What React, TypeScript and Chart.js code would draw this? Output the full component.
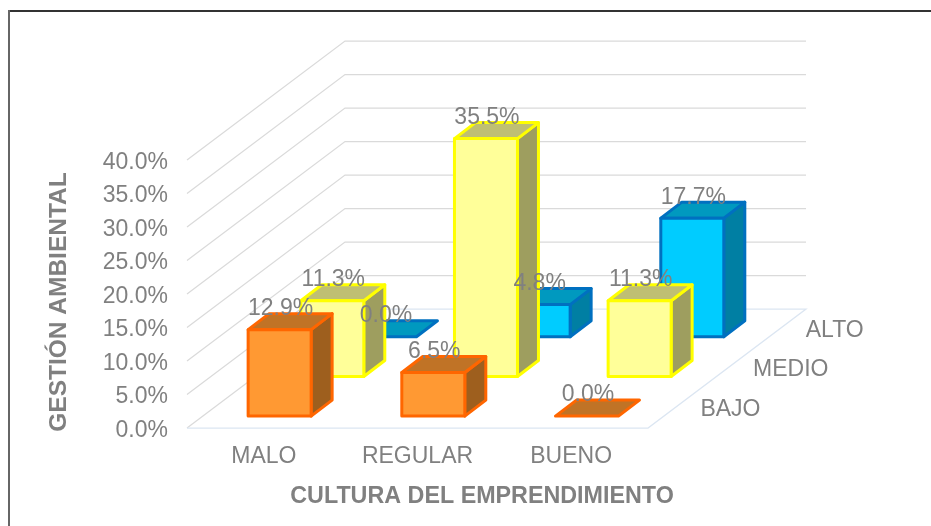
import React, { useEffect, useRef } from "react";
import { Chart, registerables } from "chart.js";

Chart.register(...registerables);

const categories = ["MALO", "REGULAR", "BUENO"];
const seriesNames = ["BAJO", "MEDIO", "ALTO"];
const bajo = [12.9, 6.5, 0.0];
const medio = [11.3, 35.5, 11.3];
const alto = [0.0, 4.8, 17.7];
const yAxisTitle = "GESTIÓN AMBIENTAL";
const xAxisTitle = "CULTURA DEL EMPRENDIMIENTO";

const FONT = '"Liberation Sans", Arial, sans-serif';
const TEXT = "#808080";
const W = 931;
const H = 526;
const AREA = { left: 187, top: 160, right: 648, bottom: 428 };
const DEPTH = { x: 158, y: -119 };
const BAR_DEPTH = { x: 21, y: -16 };
const ROW_T = [0.1, 0.1 + 1 / 3, 0.1 + 2 / 3];
const PALETTE = [
  { face: "#FF9933", line: "#FF6600", top: "#C07326", side: "#9E5F1E" },
  { face: "#FFFF99", line: "#FFFF00", top: "#BFBF73", side: "#9E9E5F" },
  { face: "#00CCFF", line: "#0070C0", top: "#0099BF", side: "#007FA3" },
];

function poly(ctx: CanvasRenderingContext2D, pts: number[][], fill: string, stroke: string) {
  ctx.beginPath();
  pts.forEach((p, i) => (i ? ctx.lineTo(p[0], p[1]) : ctx.moveTo(p[0], p[1])));
  ctx.closePath();
  ctx.fillStyle = fill;
  ctx.fill();
  ctx.strokeStyle = stroke;
  ctx.lineWidth = 3;
  ctx.lineJoin = "round";
  ctx.stroke();
}

const box3d = {
  id: "box3d",
  afterLayout(chart: any) {
    // the reference's value labels sit slightly below their gridline start
    const s = chart.scales.y;
    s._labelItems = null;
    s.getLabelItems(chart.chartArea).forEach((it: any) => {
      it.options.translation[1] += 2.5;
    });
  },
  beforeDatasetsDraw(chart: any) {
    const { ctx, scales } = chart;
    const { x, y } = scales;
    ctx.save();
    // walls and floor
    ctx.lineWidth = 1.25;
    ctx.strokeStyle = "#DADADA";
    y.ticks.forEach((t: any) => {
      const py = y.getPixelForValue(t.value);
      ctx.beginPath();
      ctx.moveTo(x.left, py);
      ctx.lineTo(x.left + DEPTH.x, py + DEPTH.y);
      if (t.value !== 0) ctx.lineTo(x.right + DEPTH.x, py + DEPTH.y);
      ctx.stroke();
    });
    const b = y.getPixelForValue(0);
    ctx.strokeStyle = "#DCE6F2";
    ctx.beginPath();
    ctx.moveTo(x.left + DEPTH.x, b + DEPTH.y);
    ctx.lineTo(x.right + DEPTH.x, b + DEPTH.y);
    ctx.lineTo(x.right, b);
    ctx.lineTo(x.left, b);
    ctx.stroke();
    ctx.restore();
  },
  afterDatasetsDraw(chart: any) {
    const { ctx, scales } = chart;
    const { x, y } = scales;
    const labels: { text: string; x: number; y: number }[] = [];
    ctx.save();
    for (let d = chart.data.datasets.length - 1; d >= 0; d--) {
      const meta = chart.getDatasetMeta(d);
      const t = ROW_T[d];
      const ox = DEPTH.x * t;
      const oy = DEPTH.y * t;
      const c = PALETTE[d];
      meta.data.forEach((el: any, i: number) => {
        const { x: cx, y: top, base, width } = el.getProps(["x", "y", "base", "width"], true);
        const l = cx - width / 2 + ox;
        const r = cx + width / 2 + ox;
        const yt = top + oy;
        const yb = base + oy;
        const dx = BAR_DEPTH.x;
        const dy = BAR_DEPTH.y;
        if (yb - yt > 0.5) {
          poly(ctx, [[r, yt], [r + dx, yt + dy], [r + dx, yb + dy], [r, yb]], c.side, c.line);
          poly(ctx, [[l, yt], [l + dx, yt + dy], [r + dx, yt + dy], [r, yt]], c.top, c.line);
          poly(ctx, [[l, yt], [r, yt], [r, yb], [l, yb]], c.face, c.line);
        } else {
          poly(ctx, [[l, yt], [l + dx, yt + dy], [r + dx, yt + dy], [r, yt]], c.top, c.line);
        }
        const v = chart.data.datasets[d].data[i];
        labels.push({ text: v.toFixed(1) + "%", x: (l + r) / 2 + 1, y: yt - 21 });
      });
    }
    ctx.font = `23px ${FONT}`;
    ctx.textAlign = "center";
    ctx.textBaseline = "middle";
    ctx.fillStyle = TEXT;
    labels.forEach((p) => ctx.fillText(p.text, p.x, p.y));

    // depth axis labels
    ctx.textAlign = "left";
    seriesNames.forEach((name, i) => {
      const t = ROW_T[i] + BAR_DEPTH.y / DEPTH.y / 2;
      ctx.fillText(name, x.right + DEPTH.x * t + 26, y.getPixelForValue(0) + DEPTH.y * t + 1.5);
    });

    // axis titles
    ctx.font = `bold 23.3px ${FONT}`;
    ctx.textAlign = "center";
    ctx.fillText(xAxisTitle, 482, 497);
    ctx.font = `bold 24.5px ${FONT}`;
    ctx.translate(59, 302);
    ctx.rotate(-Math.PI / 2);
    ctx.fillText(yAxisTitle, 0, 0);
    ctx.restore();
  },
};

export default function App() {
  const ref = useRef<HTMLCanvasElement>(null);
  useEffect(() => {
    document.documentElement.style.background = "#fff";
    document.body.style.margin = "0";
    document.body.style.overflow = "hidden";
    const chart = new Chart(ref.current!, {
      type: "bar",
      data: {
        labels: categories,
        datasets: [
          { label: seriesNames[0], data: bajo },
          { label: seriesNames[1], data: medio },
          { label: seriesNames[2], data: alto },
        ].map((d) => ({ ...d, backgroundColor: "transparent", borderWidth: 0 })),
      },
      options: {
        responsive: false,
        animation: false,
        events: [],
        layout: { padding: { left: 0, top: AREA.top, right: W - AREA.right, bottom: 0 } },
        datasets: { bar: { grouped: false, categoryPercentage: 1, barPercentage: 0.41 } },
        plugins: { legend: { display: false }, title: { display: false }, tooltip: { enabled: false } },
        scales: {
          x: {
            grid: { display: false },
            border: { display: false },
            afterFit: (s: any) => { s.height = H - AREA.bottom; },
            ticks: { color: TEXT, font: { family: FONT, size: 23 }, padding: 7, maxRotation: 0, autoSkip: false },
          },
          y: {
            min: 0,
            max: 40,
            grid: { display: false },
            border: { display: false },
            afterFit: (s: any) => { s.width = AREA.left; },
            ticks: {
              stepSize: 5,
              autoSkip: false,
              color: TEXT,
              padding: 11,
              font: { family: FONT, size: 23 },
              callback: (v: any) => Number(v).toFixed(1) + "%",
            },
          },
        },
      },
      plugins: [box3d],
    } as any);
    return () => chart.destroy();
  }, []);
  return (
    <div style={{ position: "absolute", left: 0, top: 0, width: W, height: H, background: "#fff", overflow: "hidden" }}>
      <canvas ref={ref} width={W} height={H} style={{ display: "block", width: W, height: H }} />
      <div style={{ position: "absolute", left: 8, top: 10, right: 0, height: 2, background: "#333" }} />
      <div style={{ position: "absolute", left: 8, top: 10, bottom: 0, width: 2, background: "#666" }} />
    </div>
  );
}
